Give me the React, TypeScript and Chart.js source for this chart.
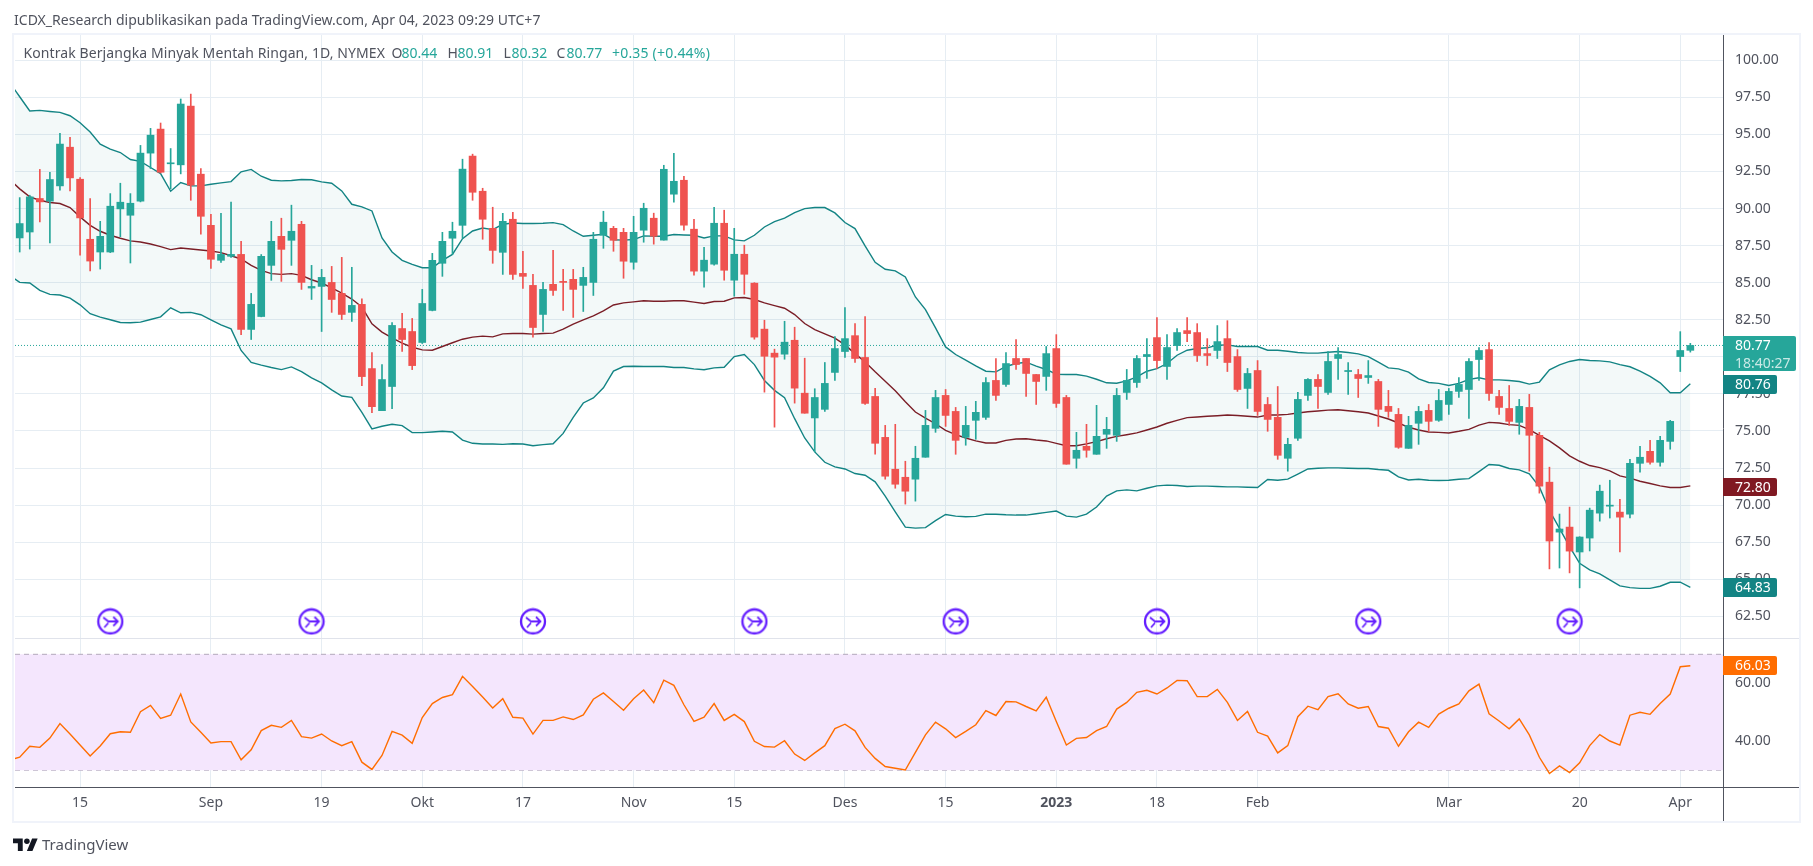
import React, { useEffect, useRef } from "react";
import { Chart, registerables } from "chart.js";

Chart.register(...registerables);

const opens = [88.02,88.42,90.68,90.5,91.53,94.14,91.98,87.93,87.07,87.07,89.98,89.55,90.5,93.74,95.36,93.02,92.95,96.91,92.32,88.87,86.51,86.78,86.91,81.85,82.72,86.17,88.13,87.86,88.94,84.64,84.75,85.02,84.28,83.0,83.54,79.21,76.37,78.0,81.91,81.71,80.97,83.13,86.31,88,88.87,93.54,91.17,88.67,87.05,89.28,85.63,84.82,82.86,84.89,85.09,85.23,84.82,85.02,88.2,88.67,88.4,86.38,88.54,89.35,87.87,90.97,91.91,88.61,85.78,86.25,89.01,85.17,86.92,84.97,81.87,80.25,80.18,81.12,77.55,75.88,76.46,78.95,80.36,81.43,79.96,77.33,74.57,72.42,71.88,71.75,73.23,75.18,77.4,76.32,74.57,75.72,75.92,78.41,78.14,79.89,79.89,78.81,78.68,80.56,77.26,73.16,73.97,73.43,74.78,74.71,77.6,78.27,80.02,81.3,79.35,80.76,81.77,81.64,80.22,80.43,81.23,80.02,77.87,79.08,76.79,75.92,73.16,74.51,77.4,78.48,77.6,79.89,79.01,78.81,78.61,78.34,76.66,76.12,73.83,75.52,76.39,75.72,76.79,77.67,77.8,79.82,80.49,77.33,76.52,75.58,76.59,74.71,71.55,68.18,68.52,66.84,67.78,69.46,69.93,69.53,69.39,72.82,73.63,72.89,74.3,80.02,80.44];
const highs = [90.74,90.9,92.64,92.45,95.07,94.8,92.09,90.68,89.14,91.01,91.71,91.01,94.26,95.41,95.77,94.05,97.39,97.72,92.7,89.62,89.68,90.43,87.79,84.28,86.9,89.14,89.35,90.23,89.14,86.17,85.9,86.1,86.71,86.04,83.92,80.29,79.48,82.32,82.93,82.59,84.55,86.98,88.4,89.08,93.33,93.67,91.37,90.09,89.68,89.75,87.12,85.56,85.02,87.18,85.9,85.9,86.04,88.4,89.82,88.8,88.67,89.48,90.36,89.69,92.92,93.73,92.18,89.28,87.39,90.09,89.89,88.67,87.53,85.0,82.47,80.52,82.4,82,79.91,77.85,79.62,81.37,83.32,82.24,82.71,77.87,75.38,75.45,72.96,73.97,76.39,77.74,77.8,76.59,76.66,77.0,78.61,79.89,80.29,81.17,79.89,78.81,80.7,81.5,77.4,74.91,75.45,76.73,75.92,77.87,79.15,80.09,81.23,82.65,81.5,81.91,82.65,82.24,81.23,82.11,82.44,80.49,79.22,79.75,77.26,78.0,74.51,77.6,78.54,78.81,80.36,80.63,79.62,79.15,79.75,78.48,77.74,76.52,75.99,76.66,76.79,77.8,77.87,78.61,79.89,80.63,80.96,77.74,78.07,77.13,77.47,74.91,72.56,69.4,69.87,67.87,69.8,71.35,71.68,70.4,73.09,73.97,74.37,74.64,75.72,81.7,80.91];
const lows = [87.07,87.27,89.1,87.68,91.24,91.19,86.85,85.79,85.92,87.03,88.1,86.33,90.45,92.7,92.4,91.33,92.34,90.56,88.27,85.97,86.37,86.7,81.49,81.17,82.7,85.16,85.09,86.17,84.55,83.87,81.71,83.0,82.52,82.39,78.06,76.24,76.37,76.51,80.36,79.14,80.9,83.1,85.43,86.91,88.0,90.56,87.93,86.31,85.56,85.23,84.62,81.33,81.71,84.14,83.13,82.66,83.06,84.14,87.32,87.12,85.3,85.91,87.73,87.6,87.87,90.43,88.54,85.51,84.7,86.18,85.17,84.09,84.22,81.19,77.62,75.26,79.84,76.88,76.2,73.59,76.32,78.41,79.96,79.62,76.79,73.43,71.75,71.14,70.07,70.27,73.23,74.91,75.31,73.43,74.04,74.44,75.78,77.06,78.0,79.15,77.33,76.79,77.74,76.59,72.76,72.49,73.23,73.43,73.83,74.3,77.13,77.94,78.54,79.22,78.48,80.43,81.03,79.69,79.42,79.89,79.01,77.67,76.52,76.05,74.98,73.09,72.29,74.37,77.06,76.52,77.47,78.48,77.47,77.26,78.21,75.31,75.92,73.83,73.83,74.1,74.98,75.65,76.12,77.26,75.85,78.41,77.06,76.12,75.38,74.78,72.29,70.81,65.7,65.76,65.43,64.42,66.91,68.92,69.13,66.84,69.13,72.22,72.76,72.62,73.77,79.01,80.32];
const closes = [88.99,90.79,90.45,91.96,94.35,92.07,89.37,86.46,88.13,90.16,90.43,90.36,93.74,94.95,92.45,93.06,97.05,91.58,89.48,86.58,86.91,86.91,81.85,83.54,86.78,87.79,87.25,88.47,85.02,84.75,85.36,83.87,82.86,83.47,78.67,76.64,78.47,82.12,81.17,79.41,83.6,86.51,87.79,88.47,92.66,91.1,89.28,87.18,89.14,85.56,85.43,81.98,84.55,84.48,85.02,84.55,85.36,87.93,89.08,87.86,86.45,88.4,90.02,88.13,92.65,91.84,88.88,85.78,86.52,89.01,85.84,86.92,85.57,81.33,80.04,79.98,80.99,77.89,76.2,77.26,78.21,80.56,81.23,79.89,76.86,74.17,71.95,71.41,70.94,73.16,75.38,77.26,76.05,74.37,75.38,76.26,78.27,77.4,79.55,79.48,78.88,78.34,80.22,76.86,72.76,73.7,73.7,74.64,75.11,77.4,78.41,79.89,80.16,79.75,80.63,81.64,81.57,80.09,80.09,81.03,79.62,77.8,78.88,76.32,75.78,73.36,74.1,77.13,78.48,78.0,79.69,80.16,79.08,78.54,78.74,76.46,76.32,73.9,75.38,76.32,75.65,77.06,77.67,78.14,79.69,80.43,77.53,76.59,75.65,76.66,74.71,71.28,67.58,68.39,66.9,67.85,69.66,70.94,70.0,69.19,72.82,73.23,72.89,74.37,75.65,80.43,80.77];

// Bollinger bands: first entry is the bar just left of the visible range
const upperBand = [98.5,97.54,96.58,96.62,96.55,96.49,96.26,95.79,95.16,94.35,94.01,93.78,93.31,93.18,92.77,92.36,91.17,91.76,91.53,91.53,91.64,91.73,91.82,92.48,92.64,92.18,91.91,91.87,91.89,91.96,91.94,91.8,91.71,91.19,90.29,90.11,89.84,88.02,87.07,86.51,86.24,86.01,86.01,86.51,86.91,87.97,88.49,88.69,88.58,88.94,89.03,88.99,88.99,89.01,89.05,88.92,88.49,88.13,88.2,88.27,87.9,87.87,87.91,88.16,88.13,88.13,88.25,88.22,88.2,88.02,88.16,88.16,87.89,87.82,88.2,88.76,89.12,89.35,89.73,90.0,90.07,90.07,89.71,89.06,88.65,87.48,86.38,85.91,85.8,85.39,84.04,83.19,81.96,80.67,80.16,79.78,79.39,79.03,78.99,79.35,79.55,79.64,79.37,79.15,78.83,78.81,78.81,78.7,78.49,78.25,78.22,78.38,78.65,79.03,79.21,79.55,80.11,80.45,80.56,80.61,80.79,80.81,80.7,80.7,80.7,80.45,80.45,80.38,80.29,80.25,80.25,80.31,80.36,80.29,80.2,80.02,79.64,79.26,79.19,78.97,78.52,78.27,78.21,78.07,78.21,78.48,78.59,78.45,78.45,78.41,78.34,78.16,78.3,79.13,79.46,79.69,79.82,79.75,79.73,79.66,79.48,79.33,79.04,78.68,78.25,77.58,77.58,78.18];
const middleBand = [91.96,91.33,90.79,90.56,90.41,90.34,90.07,89.44,88.87,88.47,88.2,88.0,87.82,87.75,87.61,87.43,87.23,87.34,87.27,87.21,87.14,87.03,86.82,86.6,86.17,85.83,85.61,85.56,85.61,85.5,85.2,84.98,84.66,84.3,83.9,83.36,82.23,81.67,81.28,80.92,80.65,80.47,80.45,80.7,80.95,81.19,81.33,81.4,81.35,81.55,81.58,81.58,81.53,81.58,81.6,81.87,82.21,82.5,82.77,83.1,83.5,83.64,83.71,83.78,83.75,83.75,83.78,83.78,83.69,83.6,83.73,83.75,83.98,84.0,83.87,83.64,83.46,83.28,82.85,82.25,81.84,81.55,81.26,80.81,80.22,79.66,78.99,78.36,77.71,76.97,76.28,75.87,75.49,75.04,74.75,74.53,74.33,74.19,74.19,74.37,74.46,74.48,74.39,74.33,74.17,74.01,74.01,74.13,74.28,74.48,74.64,74.75,74.87,75.07,75.27,75.52,75.72,75.9,75.94,75.99,76.03,76.08,76.05,75.99,75.94,76.08,76.08,76.12,76.21,76.3,76.35,76.41,76.43,76.37,76.3,76.21,76.01,75.81,75.54,75.25,75.07,74.93,74.91,74.87,74.98,75.11,75.4,75.58,75.54,75.43,75.38,75.09,74.71,74.33,73.86,73.32,72.96,72.67,72.53,72.31,71.97,71.82,71.61,71.46,71.3,71.19,71.19,71.3];
const lowerBand = [85.5,85.02,84.98,84.48,84.21,84.17,83.96,83.51,82.91,82.68,82.5,82.32,82.3,82.34,82.52,82.7,83.31,82.97,83.0,82.84,82.5,82.16,81.89,80.43,79.62,79.44,79.28,79.14,79.32,79.01,78.58,78.24,77.77,77.36,77.27,76.26,75.14,75.32,75.45,75.36,74.89,74.89,74.93,74.98,74.93,74.39,74.17,74.12,74.12,74.1,74.14,74.12,74.01,74.08,74.14,74.84,75.92,76.89,77.23,77.91,79.04,79.35,79.37,79.35,79.35,79.35,79.28,79.28,79.19,79.13,79.26,79.3,80.02,80.16,79.48,78.41,77.74,77.24,75.83,74.53,73.59,72.89,72.58,72.44,72.13,72.02,71.57,70.61,69.55,68.52,68.45,68.48,68.95,69.37,69.26,69.22,69.24,69.39,69.39,69.35,69.33,69.33,69.42,69.51,69.6,69.26,69.19,69.39,69.87,70.61,70.96,71.03,70.96,71.14,71.3,71.35,71.32,71.26,71.28,71.28,71.26,71.23,71.23,71.21,71.19,71.73,71.68,71.75,72.09,72.44,72.49,72.51,72.51,72.49,72.47,72.47,72.4,72.35,71.91,71.7,71.75,71.68,71.66,71.68,71.75,71.79,72.26,72.74,72.69,72.47,72.38,72.11,71.23,69.64,68.43,67.2,66.08,65.63,65.36,64.96,64.55,64.44,64.39,64.39,64.53,64.8,64.8,64.46];
const rsiValues = [33.6,34.5,38.3,37.9,41.1,46.1,42.5,38.7,34.9,38.4,42.6,43.3,43.1,50.2,52.4,47.9,49.0,56.3,46.7,43.1,39.4,39.9,39.9,33.6,37.1,43.7,45.5,44.8,47.2,41.6,41.1,42.5,40.1,38.5,39.9,32.8,30.3,35.1,43.4,42.1,39.3,48.2,53,55.1,56.1,62.4,58.9,55.3,51.5,54.7,48.3,48,42.5,47.2,47.2,48.4,47.5,49.1,54.5,56.7,53.7,50.7,54.7,57.7,53.3,61.1,59.3,52.6,46.9,48.3,53,47.2,49.3,46.8,40,38.2,38,40.2,35.6,33.4,36,38.5,44.4,45.9,43.6,37.9,34.1,31.3,30.7,30.1,36.2,42.2,46.6,44.3,41.3,43.4,45.7,50.6,48.9,53.7,53.6,52,50.5,55.2,46.8,38.7,41,41.3,43.7,45.1,51.1,53.4,56.9,57.6,56.3,58.4,61,60.9,55.4,55.4,57.9,53.4,47.2,50.3,43.1,41.8,36,38.5,48.5,52.1,50.9,55.4,56.4,52.9,51.4,52,45.1,44.5,38.3,43.3,46.6,44.8,49.4,51.4,52.9,57.4,59.7,49.5,47,44.3,47.7,42.2,34.5,28.9,31.5,29.2,32.6,38.5,42.3,40.1,38.7,49,50,49.3,53,56.3,65.7,66.03];

const tickBars = [6, 19, 30, 40, 50, 61, 71, 82, 92, 103, 113, 123, 142, 155, 165];
const tickLabels = ["15", "Sep", "19", "Okt", "17", "Nov", "15", "Des", "15", "2023", "18", "Feb", "Mar", "20", "Apr"];
const eventBars = [9, 29, 51, 73, 93, 113, 134, 154];
const eventLevel = 62.16;
const lastClose = 80.77;
const rsiUpper = 70;
const rsiLower = 30;

const priceLabels = [
  { top: 336, h: 35, w: 73, bg: "#26a69a", text: "80.77", sub: "18:40:27" },
  { top: 375, h: 18.5, w: 54, bg: "#138484", text: "80.76" },
  { top: 477.5, h: 18.5, w: 54, bg: "#801922", text: "72.80" },
  { top: 578, h: 18.5, w: 54, bg: "#138484", text: "64.83" },
  { top: 656, h: 18.5, w: 54, bg: "#ff6d00", text: "66.03" },
];

const FONT = '"Noto Sans", sans-serif';
const GRID = "#e6edf3";
const AXIS = "#50535e";
const X0 = 18.7;
const DX = 10.07;
const LEFT = 14;
const RIGHT = 1723;
const X_MIN = (LEFT - X0) / DX;
const X_MAX = (RIGHT - X0) / DX;

function eventIcon() {
  const c = document.createElement("canvas");
  c.width = 28;
  c.height = 28;
  const g = c.getContext("2d")!;
  g.strokeStyle = "#651fff";
  g.lineWidth = 2.3;
  g.beginPath();
  g.arc(14, 14, 12, 0, Math.PI * 2);
  g.stroke();
  g.lineWidth = 1.8;
  g.beginPath();
  g.moveTo(7, 10);
  g.lineTo(12, 14);
  g.lineTo(21, 14);
  g.moveTo(17, 9.5);
  g.lineTo(21.5, 14);
  g.lineTo(17, 18.5);
  g.moveTo(12, 15.5);
  g.lineTo(8, 20);
  g.stroke();
  return c;
}

const framePlugin = {
  id: "frame",
  beforeDatasetsDraw(chart: any) {
    const { ctx, chartArea: a } = chart;
    ctx.save();
    ctx.beginPath();
    ctx.rect(a.left, a.top, a.right - a.left, a.bottom - a.top);
    ctx.clip();
  },
  afterDatasetsDraw(chart: any) {
    chart.ctx.restore();
  },
  afterDraw(chart: any) {
    const { ctx, chartArea: a, scales } = chart;
    ctx.save();
    ctx.lineWidth = 1;
    ctx.strokeStyle = "#e0e3eb";
    const sep = Math.round(scales.rsi.top) + 0.5;
    ctx.beginPath();
    ctx.moveTo(a.left, sep);
    ctx.lineTo(1799, sep);
    ctx.stroke();
    ctx.strokeStyle = AXIS;
    ctx.beginPath();
    ctx.moveTo(a.left, a.bottom + 0.5);
    ctx.lineTo(1799, a.bottom + 0.5);
    ctx.moveTo(a.right + 0.5, a.top);
    ctx.lineTo(a.right + 0.5, 822);
    ctx.stroke();
    ctx.restore();
  },
};

export default function App() {
  const ref = useRef<HTMLCanvasElement>(null);

  useEffect(() => {
    const icon = eventIcon();
    const bandPoints = (arr: number[]) => arr.map((y, i) => ({ x: i - 1, y }));
    const flat = (y: number) => [{ x: X_MIN, y }, { x: X_MAX, y }];
    const line = { type: "line", pointRadius: 0, tension: 0, order: 5, borderWidth: 1.4 };
    const bandFill = "rgba(19,132,132,0.05)";
    const candleColors = closes.map((c, i) => (c >= opens[i] ? "#26a69a" : "#ef5350"));

    const chart = new Chart(ref.current!, {
      type: "bar",
      data: {
        datasets: [
          { ...line, label: "Upper", data: bandPoints(upperBand), borderColor: "#138484", yAxisID: "y", fill: { target: 1, above: bandFill, below: bandFill } },
          { ...line, label: "Lower", data: bandPoints(lowerBand), borderColor: "#138484", yAxisID: "y" },
          { ...line, label: "Basis", data: bandPoints(middleBand), borderColor: "#801922", yAxisID: "y" },
          { ...line, label: "70", data: flat(rsiUpper), borderWidth: 1, borderColor: "#b2a9bb", borderDash: [5, 4], yAxisID: "rsi", fill: { target: 4, above: "#f4e6fd", below: "#f4e6fd" }, order: 7 },
          { ...line, label: "30", data: flat(rsiLower), borderWidth: 1, borderColor: "#b2a9bb", borderDash: [5, 4], yAxisID: "rsi", order: 7 },
          { ...line, label: "RSI", data: bandPoints(rsiValues), borderColor: "#ff6d00", yAxisID: "rsi", order: 2 },
          { ...line, label: "Last", data: flat(lastClose), borderWidth: 1, borderColor: "#26a69a", borderDash: [1, 2], yAxisID: "y", order: 6 },
          { type: "line", label: "Events", data: eventBars.map((x) => ({ x, y: eventLevel })), showLine: false, pointStyle: icon, pointRadius: 14, yAxisID: "y", order: 2 },
          { label: "Wick", data: closes.map((_, i) => ({ x: i, y: [lows[i], highs[i]] })), barThickness: 1, grouped: false, yAxisID: "y", order: 1, backgroundColor: candleColors },
          { label: "Body", data: closes.map((c, i) => ({ x: i, y: [opens[i], c] })), barThickness: 7, grouped: false, minBarLength: 1, yAxisID: "y", order: 0, backgroundColor: candleColors },
        ] as any,
      },
      options: {
        animation: false,
        responsive: false,
        devicePixelRatio: 1,
        layout: { padding: { left: LEFT, top: 35, right: 14, bottom: 44 } },
        plugins: { legend: { display: false }, tooltip: { enabled: false }, title: { display: false } },
        scales: {
          x: {
            type: "linear",
            offset: false,
            min: X_MIN,
            max: X_MAX,
            afterFit(s: any) { s.height = 35; },
            afterBuildTicks(s: any) { s.ticks = tickBars.map((value) => ({ value })); },
            grid: { offset: false, color: GRID, drawTicks: false },
            border: { display: false },
            ticks: {
              autoSkip: false,
              maxRotation: 0,
              padding: 8,
              color: AXIS,
              font: (c: any) => ({ family: FONT, size: 14, weight: c.tick && tickLabels[tickBars.indexOf(c.tick.value)] === "2023" ? "bold" : "normal" }),
              callback: (v: any) => tickLabels[tickBars.indexOf(v)] ?? "",
            },
          },
          y: {
            position: "right",
            stack: "panes",
            stackWeight: 603,
            min: 61.04,
            max: 101.706,
            afterFit(s: any) { s.width = 76; },
            grid: { color: GRID, drawTicks: false },
            border: { display: false },
            ticks: { stepSize: 2.5, includeBounds: false, padding: 12, color: AXIS, font: { family: FONT, size: 14 }, callback: (v: any) => Number(v).toFixed(2) },
          },
          rsi: {
            axis: "y",
            position: "right",
            stack: "panes",
            stackWeight: 149,
            min: 24.24,
            max: 75.62,
            afterFit(s: any) { s.width = 76; },
            grid: { color: "#e2dcef", drawTicks: false },
            border: { display: false },
            ticks: { stepSize: 20, includeBounds: false, padding: 12, color: AXIS, font: { family: FONT, size: 14 }, callback: (v: any) => Number(v).toFixed(2) },
          },
        },
      } as any,
      plugins: [framePlugin as any],
    });
    return () => chart.destroy();
  }, []);

  const text = (left: number, top: number, color: string, s: string, size = 14, spacing = 0) => (
    <span style={{ position: "absolute", left, top, color, fontSize: size, lineHeight: "18px", whiteSpace: "nowrap", fontFamily: FONT, letterSpacing: spacing }}>{s}</span>
  );

  return (
    <div style={{ position: "absolute", left: 0, top: 0, width: 1813, height: 866, overflow: "hidden", background: "#fff" }}>
      <canvas ref={ref} width={1813} height={866} style={{ position: "absolute", left: 0, top: 0, width: 1813, height: 866 }} />
      <div style={{ position: "absolute", left: 12, top: 33, width: 1785, height: 786, border: "2px solid #f0f3fa", pointerEvents: "none" }} />
      {text(14, 11, "#50535e", "ICDX_Research dipublikasikan pada TradingView.com, Apr 04, 2023 09:29 UTC+7", 14, 0.03)}
      {text(23.5, 44, "#50535e", "Kontrak Berjangka Minyak Mentah Ringan, 1D, NYMEX", 14, 0.09)}
      {text(391.5, 44, "#50535e", "O")}
      {text(401.5, 44, "#26a69a", "80.44")}
      {text(447.5, 44, "#50535e", "H")}
      {text(457.5, 44, "#26a69a", "80.91")}
      {text(503.5, 44, "#50535e", "L")}
      {text(511.5, 44, "#26a69a", "80.32")}
      {text(556.5, 44, "#50535e", "C")}
      {text(566.5, 44, "#26a69a", "80.77")}
      {text(612, 44, "#26a69a", "+0.35 (+0.44%)", 14, 0.2)}
      {priceLabels.map((l) => (
        <div key={l.text} style={{ position: "absolute", left: 1723, top: l.top, width: l.w, height: l.h, background: l.bg, borderRadius: "0 2px 2px 0", color: "#fff", fontFamily: FONT, fontSize: 14, lineHeight: "17.5px", paddingLeft: 12, boxSizing: "border-box" }}>
          <div>{l.text}</div>
          {l.sub ? <div style={{ opacity: 0.75 }}>{l.sub}</div> : null}
        </div>
      ))}
      <svg style={{ position: "absolute", left: 13, top: 837 }} width={25} height={14} viewBox="0 0 36 20">
        <path d="M14 20H7V9H0V2h14v18zM28 20h-8l7.5-18h8L28 20z" fill="#131722" />
        <circle cx="20" cy="6" r="4" fill="#131722" />
      </svg>
      {text(42, 835, "#50535e", "TradingView", 15)}
    </div>
  );
}
